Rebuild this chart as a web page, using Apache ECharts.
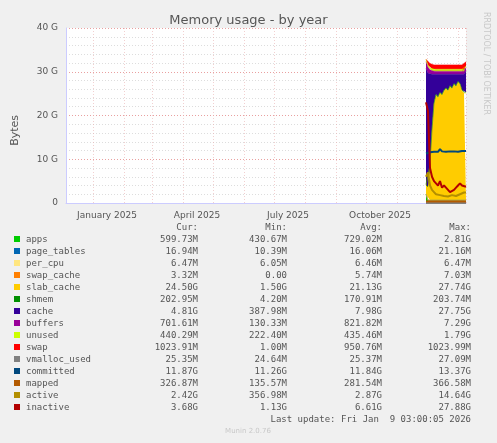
<!DOCTYPE html>
<html>
<head>
<meta charset="UTF-8" />
<title>Memory usage - by year</title>
<style>
  html, body { margin: 0; background: #f0f0f0; }
  #chart { width: 497px; height: 443px; }
</style>
<script src="https://cdn.jsdelivr.net/npm/echarts@6/dist/echarts.min.js"></script>
</head>
<body>
<div id="chart"></div>
<script>
var G = 1024 * 1024 * 1024;
var DAY = 86400000;
var start = Date.UTC(2025, 10, 30);

// day offsets of the samples (from Nov 30 2025)
var days = [0, 2, 4, 6, 8, 10, 12, 14, 16, 18, 20, 22, 24, 26, 28, 30, 32, 34, 36, 38, 40];

// stacked areas, values in G
var apps       = [2.0, 0.6, 0.6, 0.6, 0.6, 0.6, 0.6, 0.6, 0.6, 0.6, 0.6, 0.6, 0.6, 0.6, 0.6, 0.6, 0.6, 0.6, 0.6, 0.6, 0.6];
var pageTables = [0.02, 0.02, 0.02, 0.02, 0.02, 0.02, 0.02, 0.02, 0.02, 0.02, 0.02, 0.02, 0.02, 0.02, 0.02, 0.02, 0.02, 0.02, 0.02, 0.02, 0.02];
var perCpu     = [0.01, 0.01, 0.01, 0.01, 0.01, 0.01, 0.01, 0.01, 0.01, 0.01, 0.01, 0.01, 0.01, 0.01, 0.01, 0.01, 0.01, 0.01, 0.01, 0.01, 0.01];
var swapCache  = [0, 0, 0, 0, 0, 0, 0, 0, 0, 0, 0, 0, 0, 0, 0, 0, 0, 0, 0, 0, 0];
var slabCache  = [2.0, 3.0, 8.0, 16.0, 22.0, 24.0, 23.5, 24.5, 24.0, 25.0, 25.5, 25.0, 26.0, 25.5, 26.5, 26.0, 27.0, 26.5, 25.0, 24.5, 24.5];
var shmem      = [0.2, 0.2, 0.2, 0.2, 0.2, 0.2, 0.2, 0.2, 0.2, 0.2, 0.2, 0.2, 0.2, 0.2, 0.2, 0.2, 0.2, 0.2, 0.2, 0.2, 0.2];
var cache      = [26.5, 25.8, 20.6, 12.6, 6.6, 4.6, 5.1, 4.1, 4.6, 3.6, 3.1, 3.6, 2.6, 3.1, 2.1, 2.6, 1.6, 2.1, 3.6, 4.1, 4.8];
var buffers    = [1.6, 1.4, 1.0, 0.8, 0.7, 0.7, 0.7, 0.7, 0.7, 0.7, 0.7, 0.7, 0.7, 0.7, 0.7, 0.7, 0.7, 0.7, 0.7, 0.7, 0.7];
var unused     = [0.5, 0.44, 0.44, 0.44, 0.44, 0.44, 0.44, 0.44, 0.44, 0.44, 0.44, 0.44, 0.44, 0.44, 0.44, 0.44, 0.44, 0.44, 0.44, 0.44, 0.44];
var swap       = [0, 1.0, 1.0, 1.0, 1.0, 1.0, 1.0, 1.0, 1.0, 1.0, 1.0, 1.0, 1.0, 1.0, 1.0, 1.0, 1.0, 1.0, 1.0, 1.0, 1.0];
// lines
var vmallocUsed = [0.025, 0.025, 0.025, 0.025, 0.025, 0.025, 0.025, 0.025, 0.025, 0.025, 0.025, 0.025, 0.025, 0.025, 0.025, 0.025, 0.025, 0.025, 0.025, 0.025, 0.025];
var committed  = [11.3, 11.5, 11.6, 11.7, 11.7, 11.8, 11.7, 12.3, 11.8, 11.8, 11.7, 11.8, 11.8, 11.7, 11.8, 11.8, 11.7, 11.7, 11.9, 11.8, 11.9];
var mapped     = [0.33, 0.33, 0.33, 0.33, 0.33, 0.33, 0.33, 0.33, 0.33, 0.33, 0.33, 0.33, 0.33, 0.33, 0.33, 0.33, 0.33, 0.33, 0.33, 0.33, 0.33];
var active     = [6.0, 7.0, 4.0, 3.0, 2.5, 2.0, 2.0, 1.8, 1.8, 1.6, 1.5, 1.5, 1.6, 1.8, 1.5, 1.6, 2.0, 2.0, 2.3, 2.4, 2.4];
var inactive   = [23.0, 21.0, 8.0, 6.0, 5.0, 4.5, 4.0, 5.0, 3.5, 4.0, 3.5, 3.0, 2.5, 2.5, 3.0, 3.5, 4.0, 4.5, 4.0, 3.7, 3.7];

// legend table
var names = ["apps", "page_tables", "per_cpu", "swap_cache", "slab_cache", "shmem", "cache", "buffers", "unused", "swap", "vmalloc_used", "committed", "mapped", "active", "inactive"];
var colors = ["#00cc00", "#0066b3", "#ffe680", "#ff8000", "#ffcc00", "#008f00", "#330099", "#990099", "#ccff00", "#ff0000", "#808080", "#00487d", "#b35a00", "#b38f00", "#b30000"];
var curs = ["599.73M", "16.94M", "6.47M", "3.32M", "24.50G", "202.95M", "4.81G", "701.61M", "440.29M", "1023.91M", "25.35M", "11.87G", "326.87M", "2.42G", "3.68G"];
var mins = ["430.67M", "10.39M", "6.05M", "0.00", "1.50G", "4.20M", "387.98M", "130.33M", "222.40M", "1.00M", "24.64M", "11.26G", "135.57M", "356.98M", "1.13G"];
var avgs = ["729.02M", "16.06M", "6.46M", "5.74M", "21.13G", "170.91M", "7.98G", "821.82M", "435.46M", "950.76M", "25.37M", "11.84G", "281.54M", "2.87G", "6.61G"];
var maxs = ["2.81G", "21.16M", "6.47M", "7.03M", "27.74G", "203.74M", "27.75G", "7.29G", "1.79G", "1023.99M", "27.09M", "13.37G", "366.58M", "14.64G", "27.88G"];

var areaData = [apps, pageTables, perCpu, swapCache, slabCache, shmem, cache, buffers, unused, swap];
var lineData = [vmallocUsed, committed, mapped, active, inactive];

function pts(arr) {
  return arr.map(function (v, i) { return [start + days[i] * DAY, v * G]; });
}

var series = [];
areaData.forEach(function (arr, i) {
  series.push({
    name: names[i], type: "line", stack: "mem", data: pts(arr),
    showSymbol: false, lineStyle: { width: 0.5, color: colors[i] },
    areaStyle: { color: colors[i], opacity: 1 }, itemStyle: { color: colors[i] }
  });
});
lineData.forEach(function (arr, i) {
  var k = areaData.length + i;
  series.push({
    name: names[k], type: "line", data: pts(arr), showSymbol: false, z: 3,
    lineStyle: { width: 2, color: colors[k] }, itemStyle: { color: colors[k] }
  });
});

var mono = "DejaVu Sans Mono";
var txt = "#555";
var graphic = [
  { type: "text", left: 10, top: 115, rotation: Math.PI / 2, style: { text: "Bytes", font: "11px DejaVu Sans", fill: txt } },
  { type: "text", left: 482, top: 12, rotation: -Math.PI / 2, style: { text: "RRDTOOL / TOBI OETIKER", font: "8px DejaVu Sans", fill: "#c8c8c8" } },
  { type: "text", x: 198, y: 223, style: { text: "Cur:", font: "9px " + mono, fill: txt, align: "right" } },
  { type: "text", x: 287, y: 223, style: { text: "Min:", font: "9px " + mono, fill: txt, align: "right" } },
  { type: "text", x: 382, y: 223, style: { text: "Avg:", font: "9px " + mono, fill: txt, align: "right" } },
  { type: "text", x: 471, y: 223, style: { text: "Max:", font: "9px " + mono, fill: txt, align: "right" } },
  { type: "text", x: 471, y: 415, style: { text: "Last update: Fri Jan  9 03:00:05 2026", font: "9px " + mono, fill: txt, align: "right" } },
  { type: "text", x: 248, y: 428, style: { text: "Munin 2.0.76", font: "7px DejaVu Sans", fill: "#c8c8c8", align: "center" } }
];
names.forEach(function (n, i) {
  var y = 235 + i * 12;
  graphic.push({ type: "rect", shape: { x: 14, y: y + 1, width: 6, height: 6 }, style: { fill: colors[i] } });
  graphic.push({ type: "text", x: 26, y: y, style: { text: n, font: "9px " + mono, fill: txt } });
  graphic.push({ type: "text", x: 198, y: y, style: { text: curs[i], font: "9px " + mono, fill: txt, align: "right" } });
  graphic.push({ type: "text", x: 287, y: y, style: { text: mins[i], font: "9px " + mono, fill: txt, align: "right" } });
  graphic.push({ type: "text", x: 382, y: y, style: { text: avgs[i], font: "9px " + mono, fill: txt, align: "right" } });
  graphic.push({ type: "text", x: 471, y: y, style: { text: maxs[i], font: "9px " + mono, fill: txt, align: "right" } });
});

var xMin = Date.UTC(2024, 11, 5), xMax = Date.UTC(2026, 0, 9);
var monthLabels = [Date.UTC(2025, 0, 15), Date.UTC(2025, 3, 15), Date.UTC(2025, 6, 15), Date.UTC(2025, 9, 15)];
var monthNames = ["January", "February", "March", "April", "May", "June", "July", "August", "September", "October", "November", "December"];

var chart = echarts.init(document.getElementById("chart"));
chart.setOption({
  backgroundColor: "#f0f0f0",
  animation: false,
  title: { text: "Memory usage - by year", left: "center", top: 9, textStyle: { fontFamily: "DejaVu Sans", fontSize: 13, fontWeight: "normal", color: "#555" } },
  grid: { left: 66, right: 31, top: 28, bottom: 240, backgroundColor: "#ffffff", show: true, borderWidth: 0 },
  xAxis: [{
    type: "time", min: xMin, max: xMax,
    axisLine: { lineStyle: { color: "#ccccff" } },
    axisTick: { show: false },
    axisLabel: { show: false },
    splitNumber: 14,
    splitLine: { show: true, lineStyle: { color: "#e9b0b0", type: [1, 2], width: 0.6 } }
  }, {
    type: "value", min: xMin, max: xMax, position: "bottom",
    axisLine: { show: false }, axisTick: { show: false }, splitLine: { show: false },
    axisLabel: {
      customValues: monthLabels, color: txt, fontSize: 9, fontFamily: "DejaVu Sans",
      formatter: function (v) { var d = new Date(v); return monthNames[d.getUTCMonth()] + " " + d.getUTCFullYear(); }
    }
  }],
  yAxis: {
    type: "value", min: 0, max: 40 * G, interval: 10 * G,
    axisLine: { show: true, lineStyle: { color: "#ccccff" } },
    axisTick: { show: false },
    axisLabel: { color: txt, fontSize: 9, fontFamily: "DejaVu Sans", formatter: function (v) { return v === 0 ? "0" : Math.round(v / G) + " G"; } },
    splitLine: { lineStyle: { color: "#e9a0a0", type: [1, 2] } },
    minorTick: { show: false, splitNumber: 5 },
    minorSplitLine: { show: true, lineStyle: { color: "#dddddd", type: [1, 2] } }
  },
  graphic: graphic,
  series: series
});
</script>
</body>
</html>
